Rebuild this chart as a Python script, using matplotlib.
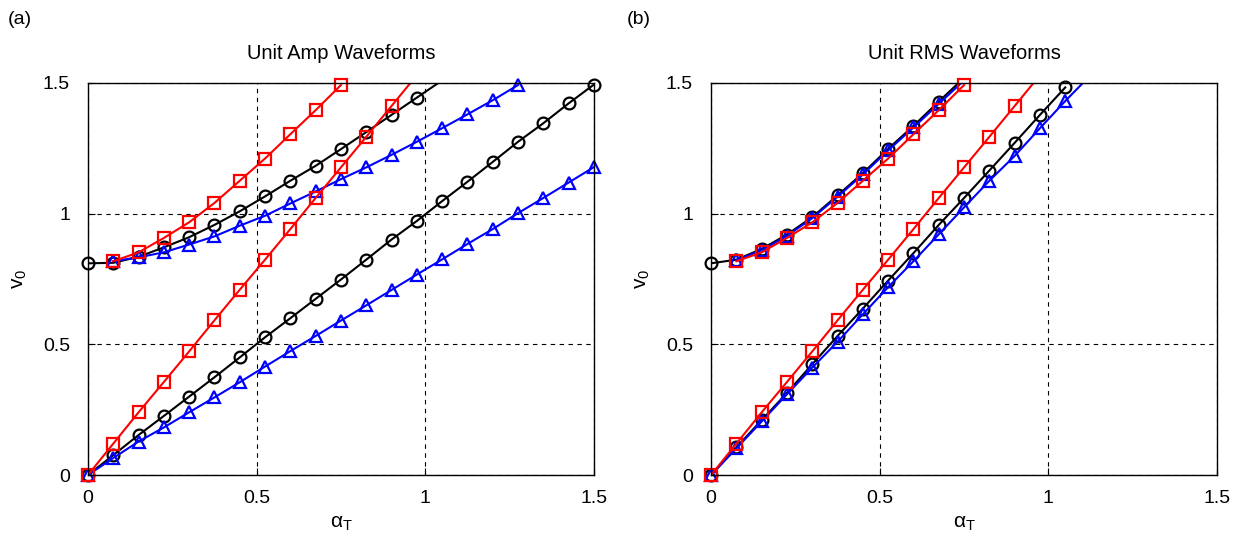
import matplotlib
matplotlib.use("Agg")
import matplotlib.pyplot as plt

plt.rcParams['font.family'] = ['Liberation Sans', 'DejaVu Sans']
plt.rcParams['mathtext.fontset'] = 'custom'
plt.rcParams['mathtext.rm'] = 'Liberation Sans'
plt.rcParams['mathtext.it'] = 'Liberation Sans'

# alpha_T sample points
xs = [0, 0.075, 0.15, 0.225, 0.3, 0.375, 0.45, 0.525, 0.6, 0.675, 0.75,
      0.825, 0.9, 0.975, 1.05, 1.125, 1.2, 1.275, 1.35, 1.425, 1.5]

# (a) unit amplitude waveforms
a_lo_black = [0, 0.076, 0.153, 0.226, 0.300, 0.374, 0.450, 0.527, 0.600, 0.674, 0.748,
              0.824, 0.901, 0.972, 1.048, 1.122, 1.198, 1.275, 1.346, 1.422, 1.494]
a_lo_blue = [0, 0.065, 0.128, 0.182, 0.240, 0.297, 0.355, 0.415, 0.474, 0.532, 0.591,
             0.649, 0.708, 0.767, 0.825, 0.884, 0.941, 1.002, 1.060, 1.119, 1.178]
a_lo_red = [0, 0.120, 0.240, 0.356, 0.473, 0.592, 0.709, 0.824, 0.941, 1.060, 1.177,
            1.294, 1.412, 1.530]
a_up_black = [0.810, 0.812, 0.835, 0.871, 0.910, 0.957, 1.009, 1.066, 1.126, 1.183, 1.247,
              1.312, 1.378, 1.444, 1.510]
a_up_blue = [0.818, 0.833, 0.852, 0.882, 0.913, 0.954, 0.992, 1.039, 1.085, 1.132,
             1.177, 1.225, 1.275, 1.327, 1.380, 1.434, 1.492]
a_up_red = [0.818, 0.852, 0.907, 0.967, 1.041, 1.126, 1.211, 1.304, 1.396, 1.492]

# (b) unit RMS waveforms
b_lo_black = [0, 0.106, 0.210, 0.314, 0.424, 0.532, 0.637, 0.744, 0.849, 0.957, 1.060,
              1.165, 1.271, 1.378, 1.483]
b_lo_blue = [0, 0.102, 0.205, 0.309, 0.411, 0.510, 0.615, 0.719, 0.818, 0.921, 1.024,
             1.126, 1.221, 1.327, 1.431, 1.530]
b_lo_red = a_lo_red
b_up_black = [0.810, 0.824, 0.865, 0.920, 0.987, 1.070, 1.155, 1.248, 1.336, 1.429, 1.520]
b_up_blue = [0.822, 0.860, 0.915, 0.983, 1.065, 1.150, 1.242, 1.330, 1.420, 1.510]
b_up_red = a_up_red

ticks = [0, 0.5, 1, 1.5]
tick_labels = ['0', '0.5', '1', '1.5']
ymax = 1.5

fig = plt.figure(figsize=(12.53, 5.46), dpi=100)
ax1 = fig.add_axes([0.0702, 0.130, 0.4038, 0.718])
ax2 = fig.add_axes([0.5675, 0.130, 0.4038, 0.718])

def curve(ax, x, y, mk, col):
    # line clipped to the box, markers only where inside the range but never clipped
    ax.plot(x, y, '-', color=col, lw=1.5)
    xm = [a for a, b in zip(x, y) if b <= ymax + 1e-9]
    ym = [b for b in y if b <= ymax + 1e-9]
    ax.plot(xm, ym, mk, color=col, mfc='none', mew=1.6, ms=8.5, ls='none', clip_on=False)

def draw(ax, lo, up, title):
    lo_k, lo_b, lo_r = lo
    up_k, up_b, up_r = up
    curve(ax, xs[:len(lo_k)], lo_k, 'o', 'k')
    curve(ax, xs[:len(up_k)], up_k, 'o', 'k')
    curve(ax, xs[:len(lo_b)], lo_b, '^', 'b')
    curve(ax, xs[1:1 + len(up_b)], up_b, '^', 'b')
    curve(ax, xs[:len(lo_r)], lo_r, 's', 'r')
    curve(ax, xs[1:1 + len(up_r)], up_r, 's', 'r')
    ax.set_xlim(0, 1.5)
    ax.set_ylim(0, ymax)
    ax.set_xticks(ticks)
    ax.set_xticklabels(tick_labels)
    ax.set_yticks(ticks)
    ax.set_yticklabels(tick_labels)
    ax.set_axisbelow(True)
    ax.grid(True, ls=(0, (4, 4)), color='k', lw=0.8)
    ax.tick_params(direction='in', length=5, labelsize=14)
    ax.tick_params(axis='y', pad=13)
    ax.tick_params(axis='x', pad=11)
    for s in ax.spines.values():
        s.set_linewidth(1.0)
    ax.set_title(title, fontsize=14.5, pad=17)
    ax.set_xlabel(r'$\alpha_\mathrm{T}$', fontsize=15, labelpad=5)
    ax.set_ylabel(r'$\mathrm{v}_0$', fontsize=15, labelpad=10)

draw(ax1, (a_lo_black, a_lo_blue, a_lo_red), (a_up_black, a_up_blue, a_up_red), 'Unit Amp Waveforms')
draw(ax2, (b_lo_black, b_lo_blue, b_lo_red), (b_up_black, b_up_blue, b_up_red), 'Unit RMS Waveforms')

fig.text(0.006, 0.965, '(a)', fontsize=14, va='center')
fig.text(0.500, 0.965, '(b)', fontsize=14, va='center')

fig.savefig('out.png', dpi=100)
